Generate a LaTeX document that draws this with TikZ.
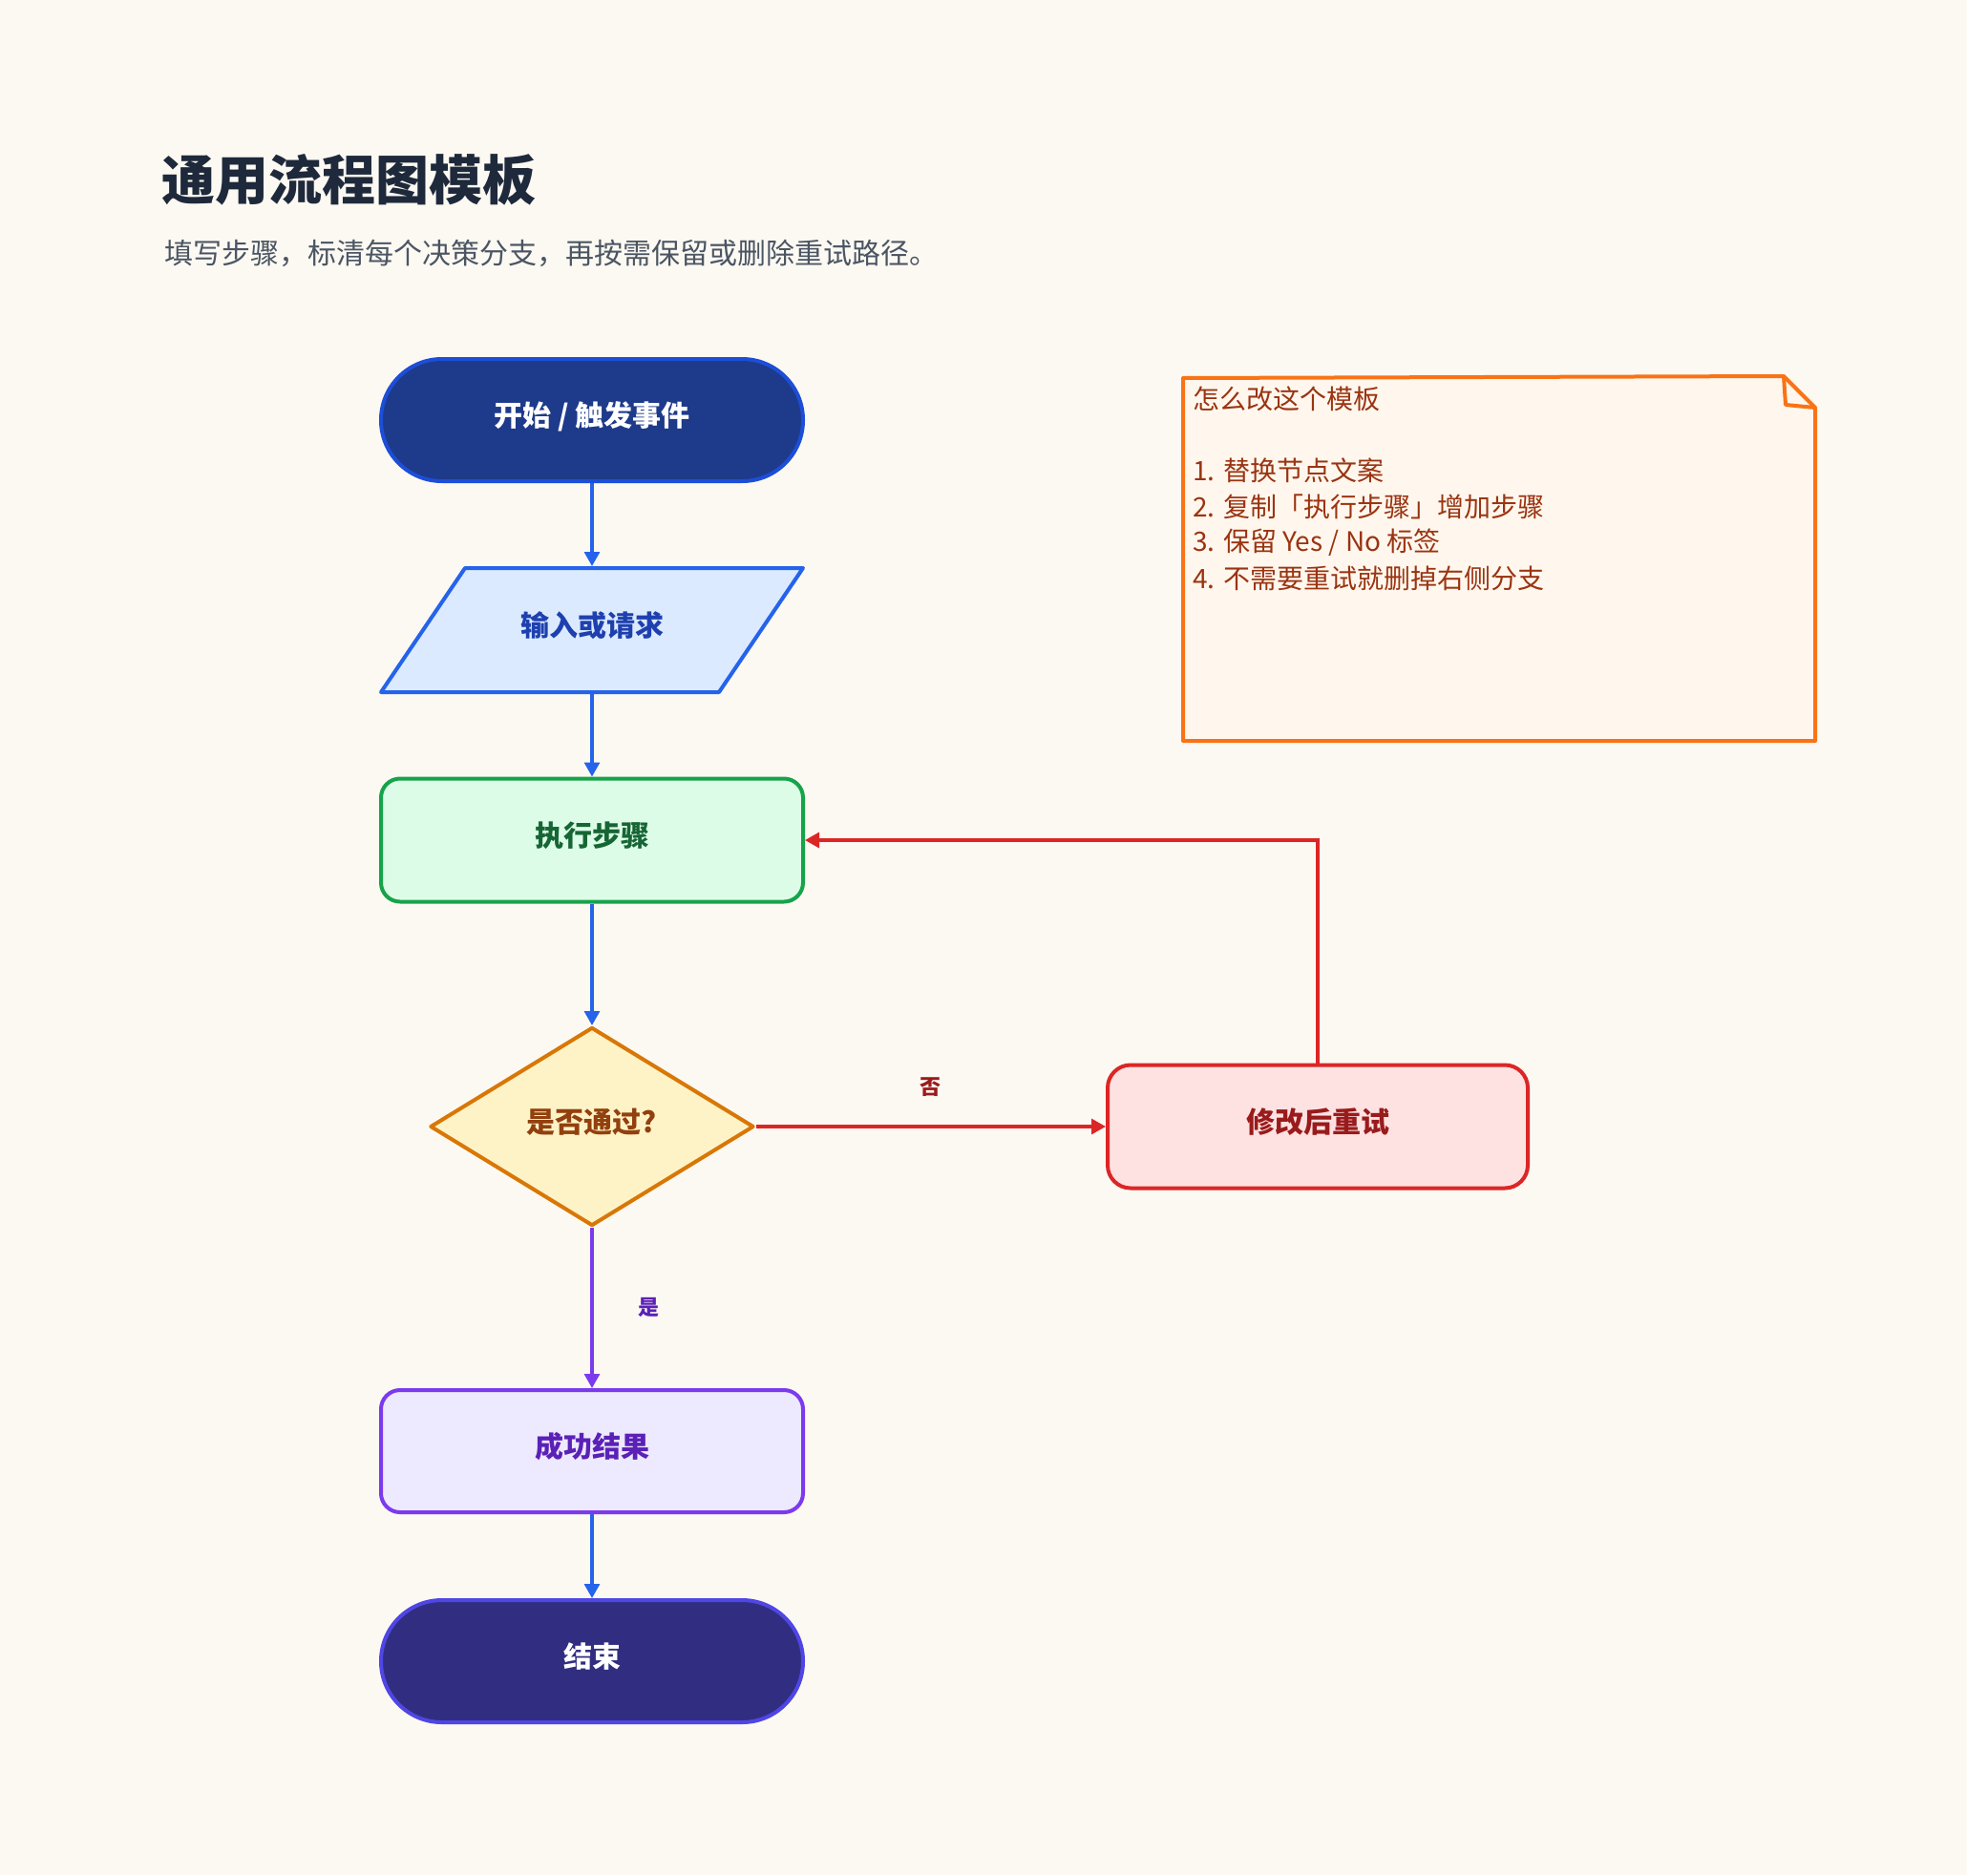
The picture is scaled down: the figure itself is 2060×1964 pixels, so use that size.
\documentclass[tikz,border=0pt]{standalone}
\usepackage{fontspec}
\setmainfont{Noto Sans CJK SC}
\usetikzlibrary{arrows.meta,shapes.geometric}
\definecolor{bg}{HTML}{FCF9F2}
\definecolor{titlec}{HTML}{1E293B}
\definecolor{subc}{HTML}{4B5563}
\definecolor{startfill}{HTML}{1E3A8A}
\definecolor{startline}{HTML}{1D4ED8}
\definecolor{inputfill}{HTML}{DBEAFE}
\definecolor{inputline}{HTML}{2563EB}
\definecolor{inputtext}{HTML}{1E40AF}
\definecolor{execfill}{HTML}{DCFCE7}
\definecolor{execline}{HTML}{16A34A}
\definecolor{exectext}{HTML}{166534}
\definecolor{decfill}{HTML}{FEF3C7}
\definecolor{decline}{HTML}{D97706}
\definecolor{dectext}{HTML}{92400E}
\definecolor{retryfill}{HTML}{FEE2E2}
\definecolor{retryline}{HTML}{DC2626}
\definecolor{retrytext}{HTML}{991B1B}
\definecolor{succfill}{HTML}{EDE9FE}
\definecolor{succline}{HTML}{7C3AED}
\definecolor{succtext}{HTML}{5B21B6}
\definecolor{endfill}{HTML}{312E81}
\definecolor{endline}{HTML}{4F46E5}
\definecolor{notefill}{HTML}{FFF7ED}
\definecolor{noteline}{HTML}{F97316}
\definecolor{notetext}{HTML}{9A3412}
\definecolor{edgeblue}{HTML}{2563EB}
\definecolor{edgered}{HTML}{DC2626}
\definecolor{edgepurple}{HTML}{7C3AED}
\tikzset{
  base/.style={font=\fontsize{15pt}{18pt}\selectfont\bfseries, text height=13pt, text depth=7pt, inner sep=0pt, line width=2pt},
  term/.style={base, rectangle, rounded corners=31.9pt, minimum width=221pt, minimum height=64pt},
  stepbox/.style={base, rectangle, rounded corners=10pt, minimum width=221pt, minimum height=64.5pt},
  flow/.style={line width=1.6pt, -{Triangle[length=7.5pt,width=8pt]}},
  lbl/.style={font=\fontsize{11pt}{13pt}\selectfont\bfseries, inner sep=0pt},
  notetxt/.style={anchor=west, inner sep=0pt, font=\fontsize{14pt}{16pt}\selectfont, text=notetext},
}
\begin{document}
\begin{tikzpicture}[x=0.5pt,y=-0.5pt]
\useasboundingbox (0,0) rectangle (2060,1964);
\fill[bg] (0,0) rectangle (2060,1964);

% title
\node[anchor=west, inner sep=0pt, font=\fontsize{28pt}{30pt}\selectfont\bfseries, text=titlec] (title) at (169,188) {通用流程图模板};
\node[anchor=west, inner sep=0pt, font=\fontsize{15pt}{18pt}\selectfont, text=subc] (subtitle) at (172,265) {填写步骤，标清每个决策分支，再按需保留或删除重试路径。};

% note
\filldraw[fill=notefill, draw=noteline, line width=2pt, line join=round]
  (1239,396) -- (1868,394) -- (1901,427) -- (1901,776) -- (1239,776) -- cycle;
\draw[noteline, line width=2pt, line join=round] (1868,394) -- (1870,424) -- (1901,427);
\node[notetxt] (n0) at (1249,418) {怎么改这个模板};
\node[notetxt] (n1) at (1249,493) {1. 替换节点文案};
\node[notetxt] (n2) at (1249,531) {2. 复制「执行步骤」增加步骤};
\node[notetxt] (n3) at (1249,568) {3. 保留 Yes / No 标签};
\node[notetxt] (n4) at (1249,606) {4. 不需要重试就删掉右侧分支};

% nodes
\node[term, fill=startfill, draw=startline, text=white] (start) at (620,440) {开始 / 触发事件};

\filldraw[fill=inputfill, draw=inputline, line width=2pt, line join=round]
  (487,595) -- (841,595) -- (753,725) -- (399,725) -- cycle;
\node[base, minimum width=177pt, minimum height=65pt, text=inputtext] (input) at (620,660) {输入或请求};

\node[stepbox, fill=execfill, draw=execline, text=exectext] (exec) at (620,880) {执行步骤};

\node[base, diamond, minimum width=169.5pt, minimum height=104pt, fill=decfill, draw=decline, text=dectext, line join=round] (dec) at (620,1180) {是否通过?};

\node[stepbox, rounded corners=12pt, minimum width=220pt, fill=retryfill, draw=retryline, text=retrytext] (retry) at (1380,1180) {修改后重试};

\node[stepbox, minimum height=64pt, fill=succfill, draw=succline, text=succtext] (success) at (620,1520) {成功结果};

\node[term, fill=endfill, draw=endline, text=white] (finish) at (620,1740) {结束};

% edges
\draw[flow, edgeblue] (start.south) -- (input.north);
\draw[flow, edgeblue] (input.south) -- (exec.north);
\draw[flow, edgeblue] (exec.south) -- (dec.north);
\draw[flow, edgered] (dec.east) -- (retry.west);
\draw[flow, edgered] (retry.north) |- (exec.east);
\draw[flow, edgepurple] (dec.south) -- (success.north);
\draw[flow, edgeblue] (success.south) -- (finish.north);

% labels
\node[lbl, text=retrytext] (lno) at (974,1139) {否};
\node[lbl, text=succtext] (lyes) at (679,1369) {是};
\end{tikzpicture}
\end{document}
